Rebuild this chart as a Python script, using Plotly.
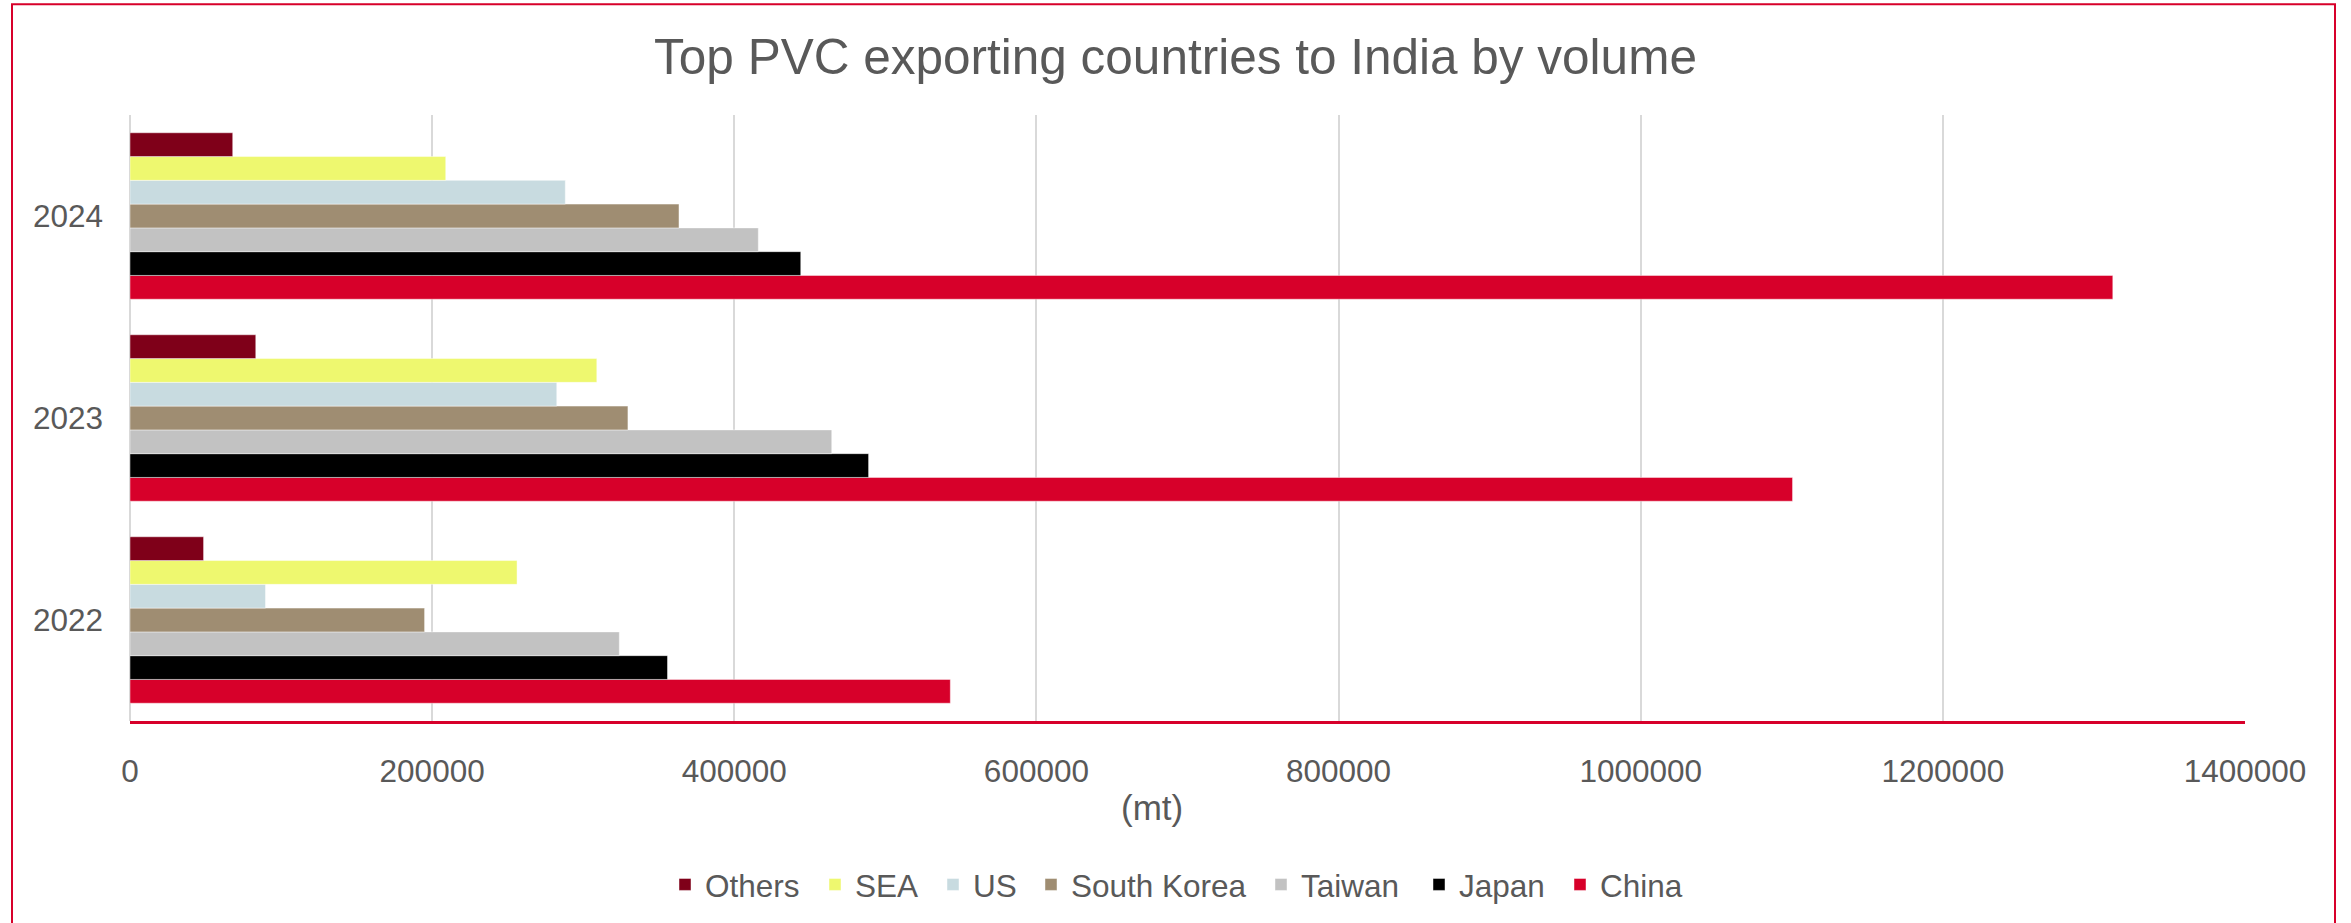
import plotly.graph_objects as go

# Import volumes into India, metric tonnes
years = ["2022", "2023", "2024"]
china = [543000, 1100500, 1312500]
japan = [355800, 488900, 444000]
taiwan = [323900, 464500, 415900]
south_korea = [195000, 329600, 363400]
us = [89700, 282500, 288150]
sea = [256200, 309000, 209000]
others = [48700, 83250, 68000]

x_ticks = [0, 200000, 400000, 600000, 800000, 1000000, 1200000, 1400000]

# name, values, colour, left edge of its legend key (px)
series = [
    ("China", china, "#D7002A", 1576),
    ("Japan", japan, "#000000", 1435),
    ("Taiwan", taiwan, "#C2C2C2", 1277),
    ("South Korea", south_korea, "#9F8D72", 1047),
    ("US", us, "#C8DBE0", 949),
    ("SEA", sea, "#EEF86F", 831),
    ("Others", others, "#7F0019", 681),
]

FONT = "Liberation Sans, Arial, sans-serif"
TEXT = "#595959"
ACCENT = "#D7002A"

W, H = 2351, 923
L, R, T, B = 130, 106, 115, 200
PW, PH = W - L - R, H - T - B


def px_x(p):
    return (p - L) / PW


def px_y(p):
    return (H - B - p) / PH


fig = go.Figure()
legends = {}
for i, (name, vals, color, key_x) in enumerate(series):
    lg = "legend" if i == 0 else f"legend{i + 1}"
    fig.add_trace(go.Bar(
        name=name, x=vals, y=years, orientation="h",
        marker=dict(color=color, line=dict(color="rgba(255,255,255,0.45)", width=1)),
        legend=lg,
    ))
    legends[lg] = dict(
        orientation="h",
        x=px_x(key_x - 16), xanchor="left",
        y=px_y(887), yanchor="middle",
        font=dict(size=31.5, color=TEXT, family=FONT),
        bgcolor="rgba(0,0,0,0)", borderwidth=0,
        itemclick=False, itemdoubleclick=False,
    )

fig.update_layout(
    width=W, height=H,
    margin=dict(l=L, r=R, t=T, b=B),
    paper_bgcolor="white", plot_bgcolor="white",
    barmode="group", bargap=0.176, bargroupgap=0,
    font=dict(family=FONT, color=TEXT, size=31.5),
    title=dict(
        text="Top PVC exporting countries to India by volume",
        x=0.5, xref="container", xanchor="center",
        y=1 - 57 / H, yref="container", yanchor="middle",
        font=dict(family=FONT, size=49.5, color=TEXT),
    ),
    xaxis=dict(
        range=[0, 1400000], tickvals=x_ticks, ticktext=[str(v) for v in x_ticks],
        showgrid=True, gridcolor="#D9D9D9", gridwidth=1.5,
        zeroline=True, zerolinecolor="#D9D9D9", zerolinewidth=1.5,
        showline=True, linecolor=ACCENT, linewidth=3,
        ticks="", ticklabelstandoff=20,
        tickfont=dict(size=31.5, color=TEXT, family=FONT),
        fixedrange=True,
    ),
    yaxis=dict(
        type="category", categoryorder="array", categoryarray=years,
        range=[-0.5, 2.5],
        showgrid=False, zeroline=False, showline=False,
        ticks="", ticklabelstandoff=26,
        tickfont=dict(size=31.5, color=TEXT, family=FONT),
    ),
    annotations=[
        dict(
            text="(mt)", xref="paper", yref="paper",
            x=px_x(1152), y=px_y(810), xanchor="center", yanchor="middle",
            showarrow=False, font=dict(size=35, color=TEXT, family=FONT),
        )
    ],
    showlegend=True,
    shapes=[
        dict(
            type="rect", xref="paper", yref="paper",
            x0=px_x(12), x1=px_x(2335), y0=px_y(H + 10), y1=px_y(4),
            line=dict(color=ACCENT, width=2), fillcolor="rgba(0,0,0,0)",
            layer="below",
        )
    ],
)
fig.update_layout(**legends)

fig.write_html("out.html")
